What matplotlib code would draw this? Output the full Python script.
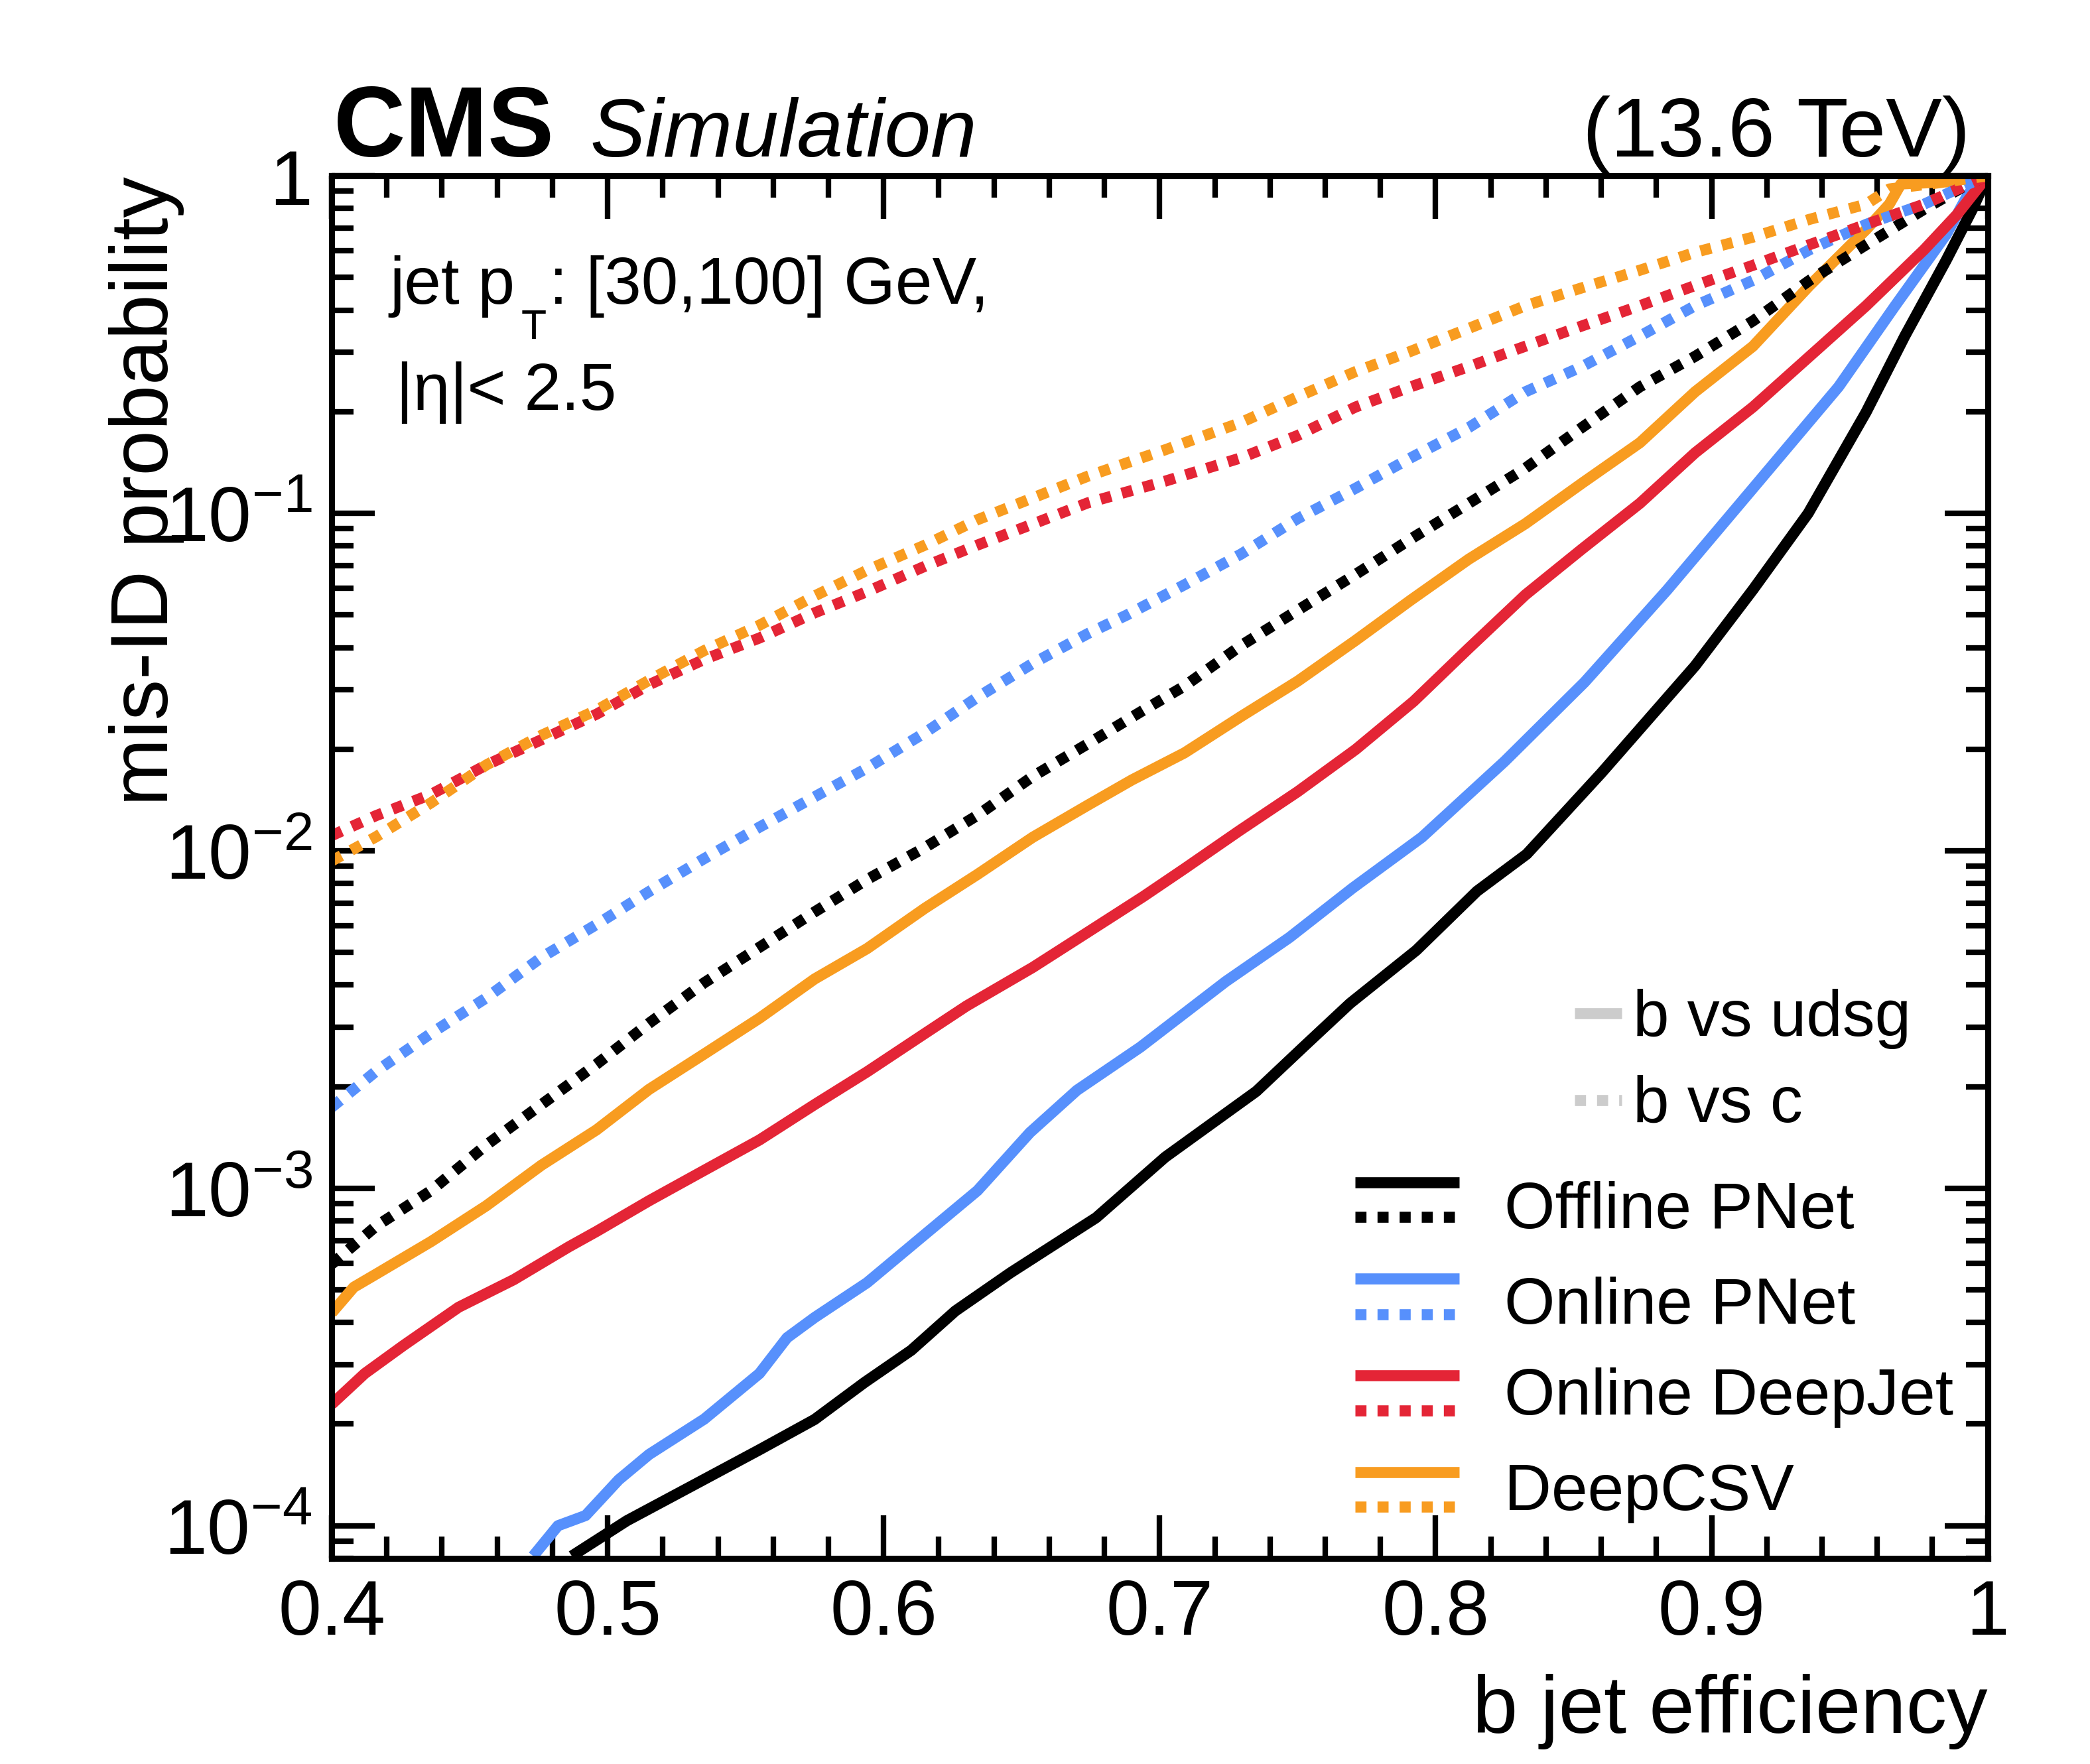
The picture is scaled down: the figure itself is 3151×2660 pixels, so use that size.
import matplotlib
matplotlib.use("Agg")
import matplotlib.pyplot as plt
from matplotlib.lines import Line2D
from matplotlib.ticker import FixedLocator, FixedFormatter, LogLocator, NullFormatter, MultipleLocator

plt.rcParams['font.family'] = ['Liberation Sans', 'DejaVu Sans']
plt.rcParams['mathtext.fontset'] = 'custom'
plt.rcParams['mathtext.rm'] = 'Liberation Sans'
plt.rcParams['mathtext.it'] = 'Liberation Sans:italic'
plt.rcParams['mathtext.bf'] = 'Liberation Sans:bold'

# ---- b vs udsg (solid) ----
eff_offline_udsg = [0.487, 0.507, 0.531, 0.555, 0.575, 0.593, 0.61, 0.626, 0.646, 0.677, 0.702,
                    0.735, 0.752, 0.769, 0.793, 0.815, 0.833, 0.86, 0.894, 0.915, 0.935, 0.956,
                    0.97, 0.985, 0.9945, 1.0]
mis_offline_udsg = [8.13e-5, 1.035e-4, 1.318e-4, 1.679e-4, 2.065e-4, 2.655e-4, 3.31e-4, 4.33e-4,
                    5.62e-4, 8.18e-4, 1.236e-3, 1.936e-3, 2.618e-3, 3.53e-3, 5.07e-3, 7.59e-3,
                    9.77e-3, 1.698e-2, 3.53e-2, 5.94e-2, 0.100, 0.1995, 0.335, 0.562, 0.796, 1.0]

eff_onpnet_udsg = [0.473, 0.482, 0.492, 0.504, 0.515, 0.535, 0.555, 0.565, 0.575, 0.594, 0.614,
                   0.634, 0.653, 0.67, 0.693, 0.724, 0.747, 0.77, 0.795, 0.825, 0.854, 0.884,
                   0.915, 0.946, 0.9665, 0.985, 0.993, 1.0]
mis_onpnet_udsg = [8.13e-5, 1.0e-4, 1.072e-4, 1.368e-4, 1.626e-4, 2.07e-4, 2.825e-4, 3.606e-4,
                   4.14e-4, 5.25e-4, 7.19e-4, 9.84e-4, 1.462e-3, 1.95e-3, 2.618e-3, 4.10e-3,
                   5.53e-3, 7.76e-3, 1.096e-2, 1.84e-2, 3.16e-2, 5.94e-2, 0.1186, 0.237, 0.412,
                   0.67, 0.883, 1.0]

eff_deepjet_udsg = [0.400, 0.412, 0.426, 0.446, 0.466, 0.486, 0.496, 0.515, 0.535, 0.555, 0.575,
                    0.594, 0.615, 0.63, 0.654, 0.674, 0.694, 0.709, 0.729, 0.75, 0.771, 0.792,
                    0.812, 0.8325, 0.853, 0.874, 0.894, 0.915, 0.9355, 0.956, 0.977, 0.989, 1.0]
mis_deepjet_udsg = [2.29e-4, 2.825e-4, 3.42e-4, 4.44e-4, 5.36e-4, 6.71e-4, 7.45e-4, 9.18e-4,
                    1.13e-3, 1.39e-3, 1.77e-3, 2.213e-3, 2.877e-3, 3.467e-3, 4.51e-3, 5.74e-3,
                    7.31e-3, 8.85e-3, 1.148e-2, 1.496e-2, 1.995e-2, 2.77e-2, 3.98e-2, 5.73e-2,
                    7.83e-2, 0.107, 0.151, 0.2065, 0.2917, 0.412, 0.604, 0.769, 1.0]

eff_deepcsv_udsg = [0.400, 0.408, 0.416, 0.436, 0.456, 0.476, 0.496, 0.515, 0.535, 0.555, 0.575,
                    0.594, 0.615, 0.634, 0.654, 0.674, 0.69, 0.709, 0.7295, 0.75, 0.771, 0.791,
                    0.812, 0.8325, 0.853, 0.874, 0.894, 0.915, 0.9355, 0.956, 0.9644, 0.9686,
                    0.985, 1.0]
mis_deepcsv_udsg = [4.27e-4, 5.09e-4, 5.56e-4, 6.95e-4, 8.87e-4, 1.17e-3, 1.49e-3, 1.963e-3,
                    2.50e-3, 3.19e-3, 4.17e-3, 5.13e-3, 6.76e-3, 8.51e-3, 1.096e-2, 1.365e-2,
                    1.622e-2, 1.95e-2, 2.50e-2, 3.18e-2, 4.20e-2, 5.53e-2, 7.31e-2, 9.31e-2,
                    0.1227, 0.1618, 0.229, 0.3126, 0.473, 0.693, 0.824, 0.946, 0.959, 1.0]

# ---- b vs c (dotted) ----
eff_offline_c = [0.400, 0.416, 0.436, 0.456, 0.476, 0.496, 0.515, 0.535, 0.555, 0.575, 0.594,
                 0.615, 0.634, 0.654, 0.674, 0.693, 0.709, 0.7295, 0.75, 0.771, 0.791, 0.812,
                 0.8325, 0.853, 0.874, 0.894, 0.915, 0.9355, 0.956, 0.977, 0.993, 1.0]
mis_offline_c = [5.96e-4, 7.71e-4, 9.84e-4, 1.343e-3, 1.77e-3, 2.333e-3, 3.083e-3, 4.064e-3,
                 5.176e-3, 6.59e-3, 8.22e-3, 1.023e-2, 1.274e-2, 1.66e-2, 2.075e-2, 2.576e-2,
                 3.076e-2, 4.055e-2, 5.16e-2, 6.59e-2, 8.39e-2, 0.107, 0.136, 0.1795, 0.237,
                 0.2917, 0.3715, 0.49, 0.625, 0.796, 0.946, 1.0]

eff_onpnet_c = [0.400, 0.416, 0.436, 0.456, 0.476, 0.496, 0.515, 0.535, 0.555, 0.575, 0.594,
                0.615, 0.634, 0.654, 0.674, 0.688, 0.709, 0.7295, 0.75, 0.771, 0.791, 0.812,
                0.8325, 0.853, 0.874, 0.894, 0.915, 0.9355, 0.956, 0.977, 0.993, 1.0]
mis_onpnet_c = [1.738e-3, 2.218e-3, 2.877e-3, 3.664e-3, 4.83e-3, 6.05e-3, 7.57e-3, 9.48e-3,
                1.175e-2, 1.445e-2, 1.758e-2, 2.239e-2, 2.85e-2, 3.59e-2, 4.40e-2, 4.99e-2,
                6.14e-2, 7.57e-2, 9.64e-2, 0.1186, 0.146, 0.1795, 0.229, 0.272, 0.335, 0.412,
                0.49, 0.604, 0.718, 0.824, 0.946, 1.0]

eff_deepjet_c = [0.400, 0.416, 0.436, 0.456, 0.476, 0.496, 0.515, 0.535, 0.555, 0.575, 0.594,
                 0.615, 0.634, 0.654, 0.674, 0.702, 0.7295, 0.75, 0.771, 0.791, 0.812, 0.8325,
                 0.853, 0.874, 0.894, 0.915, 0.9355, 0.956, 0.977, 1.0]
mis_deepjet_c = [1.109e-2, 1.27e-2, 1.469e-2, 1.795e-2, 2.133e-2, 2.54e-2, 3.105e-2, 3.69e-2,
                 4.27e-2, 5.07e-2, 5.86e-2, 6.97e-2, 8.05e-2, 9.29e-2, 0.1074, 0.1245, 0.146,
                 0.17, 0.2065, 0.237, 0.272, 0.3126, 0.359, 0.412, 0.473, 0.543, 0.625, 0.718,
                 0.824, 1.0]

eff_deepcsv_c = [0.400, 0.416, 0.436, 0.456, 0.476, 0.496, 0.515, 0.535, 0.555, 0.575, 0.594,
                 0.615, 0.634, 0.654, 0.674, 0.702, 0.7295, 0.75, 0.771, 0.791, 0.812, 0.8325,
                 0.853, 0.874, 0.894, 0.915, 0.9355, 0.956, 0.9644, 0.983, 1.0]
mis_deepcsv_c = [9.33e-3, 1.099e-2, 1.387e-2, 1.795e-2, 2.198e-2, 2.61e-2, 3.20e-2, 3.92e-2,
                 4.66e-2, 5.69e-2, 6.78e-2, 8.05e-2, 9.57e-2, 0.111, 0.1288, 0.1542, 0.1858,
                 0.2213, 0.263, 0.302, 0.353, 0.412, 0.4656, 0.525, 0.593, 0.658, 0.743, 0.824,
                 0.914, 0.955, 1.0]

taggers = ['Offline PNet', 'Online PNet', 'Online DeepJet', 'DeepCSV']
colors = ['#000000', '#5790fc', '#e42536', '#f89c20']
udsg_curves = [(eff_offline_udsg, mis_offline_udsg), (eff_onpnet_udsg, mis_onpnet_udsg),
               (eff_deepjet_udsg, mis_deepjet_udsg), (eff_deepcsv_udsg, mis_deepcsv_udsg)]
c_curves = [(eff_offline_c, mis_offline_c), (eff_onpnet_c, mis_onpnet_c),
            (eff_deepjet_c, mis_deepjet_c), (eff_deepcsv_c, mis_deepcsv_c)]

yticks = [1e-4, 1e-3, 1e-2, 1e-1, 1]
ytick_labels = [r'$10^{-4}$', r'$10^{-3}$', r'$10^{-2}$', r'$10^{-1}$', '1']
xticks = [0.4, 0.5, 0.6, 0.7, 0.8, 0.9, 1.0]
xtick_labels = ['0.4', '0.5', '0.6', '0.7', '0.8', '0.9', '1']

LW = 4.0
DOT = (0, (1.0, 1.0))

fig = plt.figure(figsize=(3151 / 300, 2661 / 300), dpi=300)
ax = fig.add_axes([0.1587, 0.1165, 0.7923, 0.7835])

for (ex, my), col in zip(udsg_curves, colors):
    ax.plot(ex, my, color=col, lw=LW, solid_capstyle='butt', solid_joinstyle='round')
for (ex, my), col in zip(c_curves, colors):
    ax.plot(ex, my, color=col, lw=LW, linestyle=DOT, dash_capstyle='butt')

ax.set_yscale('log')
ax.set_xlim(0.4, 1.0)
ax.set_ylim(8.0e-5, 1.0)

ax.xaxis.set_major_locator(FixedLocator(xticks))
ax.xaxis.set_major_formatter(FixedFormatter(xtick_labels))
ax.xaxis.set_minor_locator(MultipleLocator(0.02))
ax.yaxis.set_major_locator(FixedLocator(yticks))
ax.yaxis.set_major_formatter(FixedFormatter(ytick_labels))
ax.yaxis.set_minor_locator(LogLocator(base=10, subs=range(2, 10), numticks=20))
ax.yaxis.set_minor_formatter(NullFormatter())

ax.tick_params(which='both', direction='in', top=True, right=True, width=2.0, labelsize=28)
ax.tick_params(which='major', length=15.5, pad=7)
ax.tick_params(which='minor', length=8)
for sp in ax.spines.values():
    sp.set_linewidth(2.2)

ax.set_xlabel('b jet efficiency', fontsize=29.5, loc='right')
ax.xaxis.set_label_coords(1.0, -0.083)
ax.set_ylabel('mis-ID probability', fontsize=29.5, loc='top')
ax.yaxis.set_label_coords(-0.089, 1.0)

# header
ax.text(0.001, 1.0144, 'CMS', transform=ax.transAxes, fontsize=36, fontweight='bold',
        ha='left', va='baseline')
ax.text(0.1558, 1.0144, 'Simulation', transform=ax.transAxes, fontsize=30, style='italic',
        ha='left', va='baseline')
ax.text(0.9895, 1.0144, '(13.6 TeV)', transform=ax.transAxes, fontsize=30.5,
        ha='right', va='baseline')

# selection text
ax.text(0.0348, 0.9079, 'jet p', transform=ax.transAxes, fontsize=24,
        ha='left', va='baseline')
ax.text(0.1143, 0.8825, 'T', transform=ax.transAxes, fontsize=15,
        ha='left', va='baseline')
ax.text(0.1315, 0.9079, ': [30,100] GeV,', transform=ax.transAxes, fontsize=24,
        ha='left', va='baseline')
ax.text(0.039, 0.831, '|η|< 2.5', transform=ax.transAxes, fontsize=24,
        ha='left', va='baseline')

# style legend (grey)
grey = '#cccccc'
ax.add_line(Line2D([0.7505, 0.7792], [0.3942, 0.3942], transform=ax.transAxes, color=grey,
                   lw=LW, solid_capstyle='butt', clip_on=False))
ax.add_line(Line2D([0.7505, 0.7792], [0.3314, 0.3314], transform=ax.transAxes, color=grey,
                   lw=LW, linestyle=DOT, dash_capstyle='butt', clip_on=False))
ax.text(0.7859, 0.3784, 'b vs udsg', transform=ax.transAxes, fontsize=23.5, va='baseline')
ax.text(0.7859, 0.3165, 'b vs c', transform=ax.transAxes, fontsize=23.5, va='baseline')

# tagger legend
solid_y = [0.272, 0.2024, 0.1324, 0.0624]
dot_y = [0.247, 0.1765, 0.107, 0.0374]
text_y = [0.2393, 0.1702, 0.1045, 0.0355]
for name, col, ys, yd, yt in zip(taggers, colors, solid_y, dot_y, text_y):
    ax.add_line(Line2D([0.618, 0.681], [ys, ys], transform=ax.transAxes, color=col, lw=LW,
                       solid_capstyle='butt', clip_on=False))
    ax.add_line(Line2D([0.618, 0.681], [yd, yd], transform=ax.transAxes, color=col, lw=LW,
                       linestyle=DOT, dash_capstyle='butt', clip_on=False))
    ax.text(0.708, yt, name, transform=ax.transAxes, fontsize=23.6, va='baseline')

fig.savefig('out.png', dpi=300)
